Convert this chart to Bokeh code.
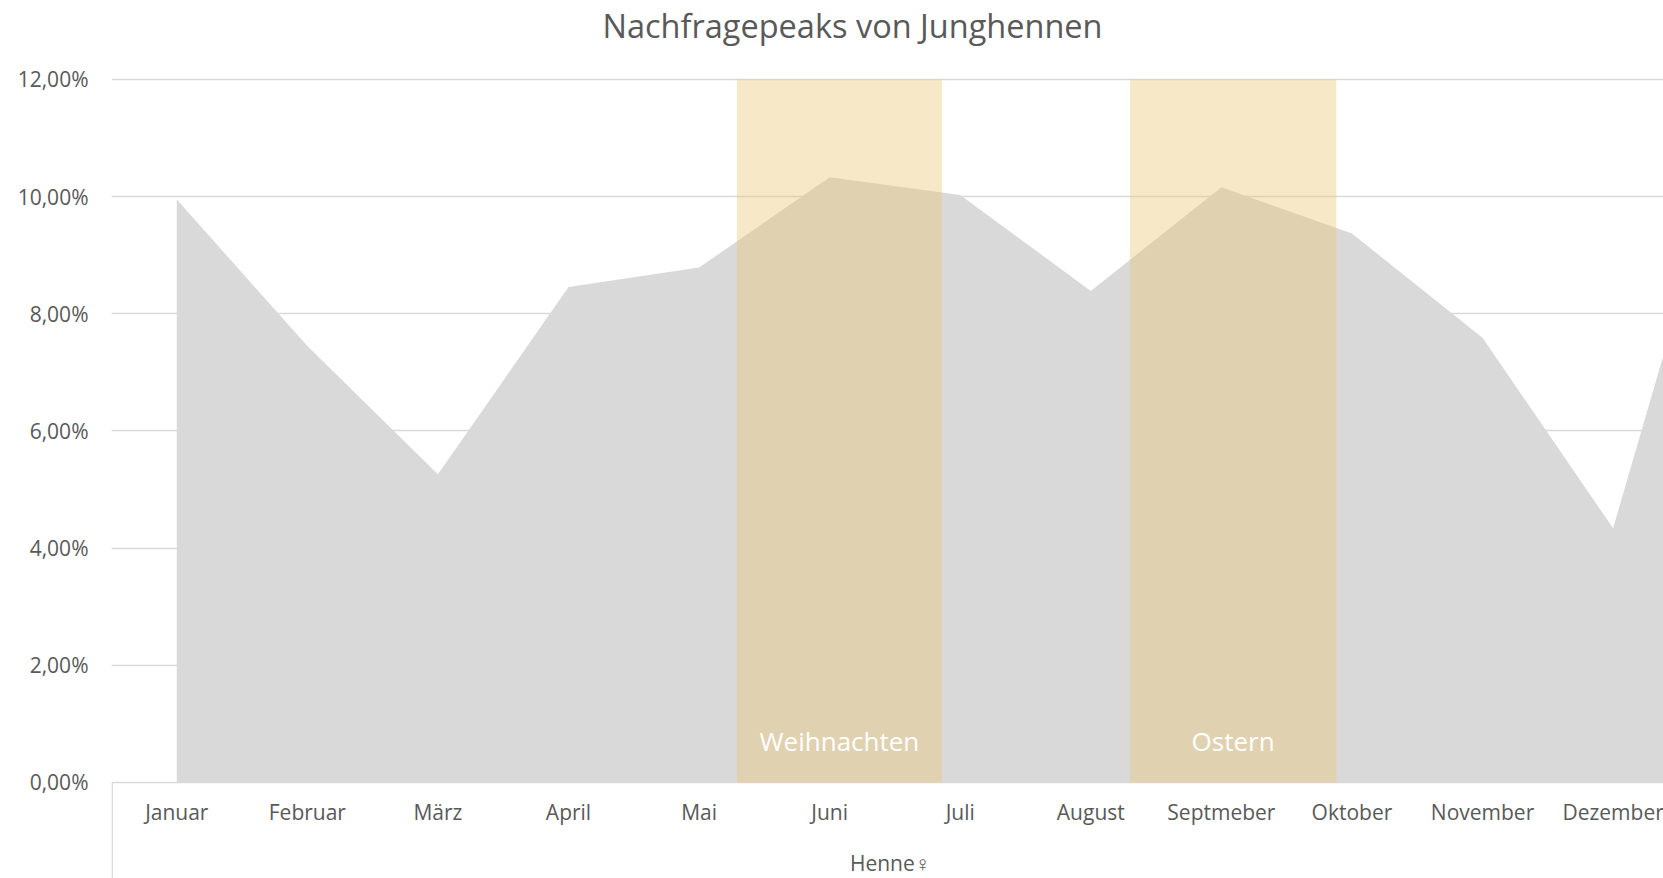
from bokeh.plotting import figure
from bokeh.models import Range1d, FixedTicker, CustomJSTickFormatter
from bokeh.core.properties import value
from bokeh.embed import file_html
from bokeh.resources import INLINE

# ---- data ----
months = ["Januar", "Februar", "März", "April", "Mai", "Juni", "Juli",
          "August", "Septmeber", "Oktober", "November", "Dezember"]
demand_pct = [9.95, 7.45, 5.26, 8.46, 8.79, 10.33, 10.03, 8.39, 10.16, 9.37, 7.59, 4.34, 12.0]
band_labels = ["Weihnachten", "Ostern"]
band_start = [4.29, 7.30]
band_end = [5.86, 8.88]
y_ticks = [0, 2, 4, 6, 8, 10, 12]
group_label = "Henne♀"

FONT = "Open Sans"
TXT = "#595959"
GRID = "#D9D9D9"

x_idx = list(range(len(demand_pct)))
month_idx = list(range(len(months)))

p = figure(width=1663, height=878, output_backend="svg", toolbar_location=None,
           x_range=Range1d(-0.5, 11.386), y_range=Range1d(-1.639, 12.495),
           x_axis_location=None, min_border_left=111, min_border_right=0,
           min_border_top=50, min_border_bottom=0)
p.outline_line_color = None
p.xgrid.visible = False
p.ygrid.ticker = FixedTicker(ticks=y_ticks)
p.ygrid.grid_line_color = GRID
p.ygrid.grid_line_width = 1.4

ax = p.yaxis[0]
ax.ticker = FixedTicker(ticks=y_ticks)
ax.formatter = CustomJSTickFormatter(code="return tick.toFixed(2).replace('.', ',') + '%';")
ax.axis_line_color = None
ax.major_tick_line_color = None
ax.minor_tick_line_color = None
ax.major_label_standoff = 17
ax.major_label_text_font = FONT
ax.major_label_text_font_size = "21px"
ax.major_label_text_color = TXT

# area
p.varea(x=x_idx, y1=[0] * len(x_idx), y2=demand_pct, fill_color="#D9D9D9")

# highlighted periods
p.quad(left=band_start, right=band_end, bottom=[0] * len(band_start),
       top=[max(y_ticks)] * len(band_start), fill_color="#EBC676",
       fill_alpha=0.4, line_color=None)
band_mid = [(a + b) / 2 for a, b in zip(band_start, band_end)]
p.text(x=band_mid, y=[0.70] * len(band_mid), text=band_labels,
       text_font=value(FONT), text_font_size="26px", text_color="white",
       text_align="center", text_baseline="middle")

# category axis (drawn inside the frame)
p.segment(x0=[-0.495], y0=[0], x1=[-0.495], y1=[-1.7], line_color=GRID, line_width=1.5)
p.text(x=month_idx, y=[-0.512] * len(months), text=months,
       text_font=value(FONT), text_font_size="21px", text_color=TXT,
       text_align="center", text_baseline="middle")
p.text(x=[(len(months) - 1) / 2], y=[-1.366], text=[group_label], x_offset=-45,
       text_font=value(FONT), text_font_size="21px", text_color=TXT,
       text_align="left", text_baseline="middle")

p.title.text = "Nachfragepeaks von Junghennen"
p.title.text_font = FONT
p.title.text_font_size = "32.5px"
p.title.text_font_style = "normal"
p.title.text_color = TXT
p.title.align = "left"
p.title.offset = 491
p.title.vertical_align = "top"
p.title.standoff = 2

open("out.html", "w").write(file_html(p, INLINE))
